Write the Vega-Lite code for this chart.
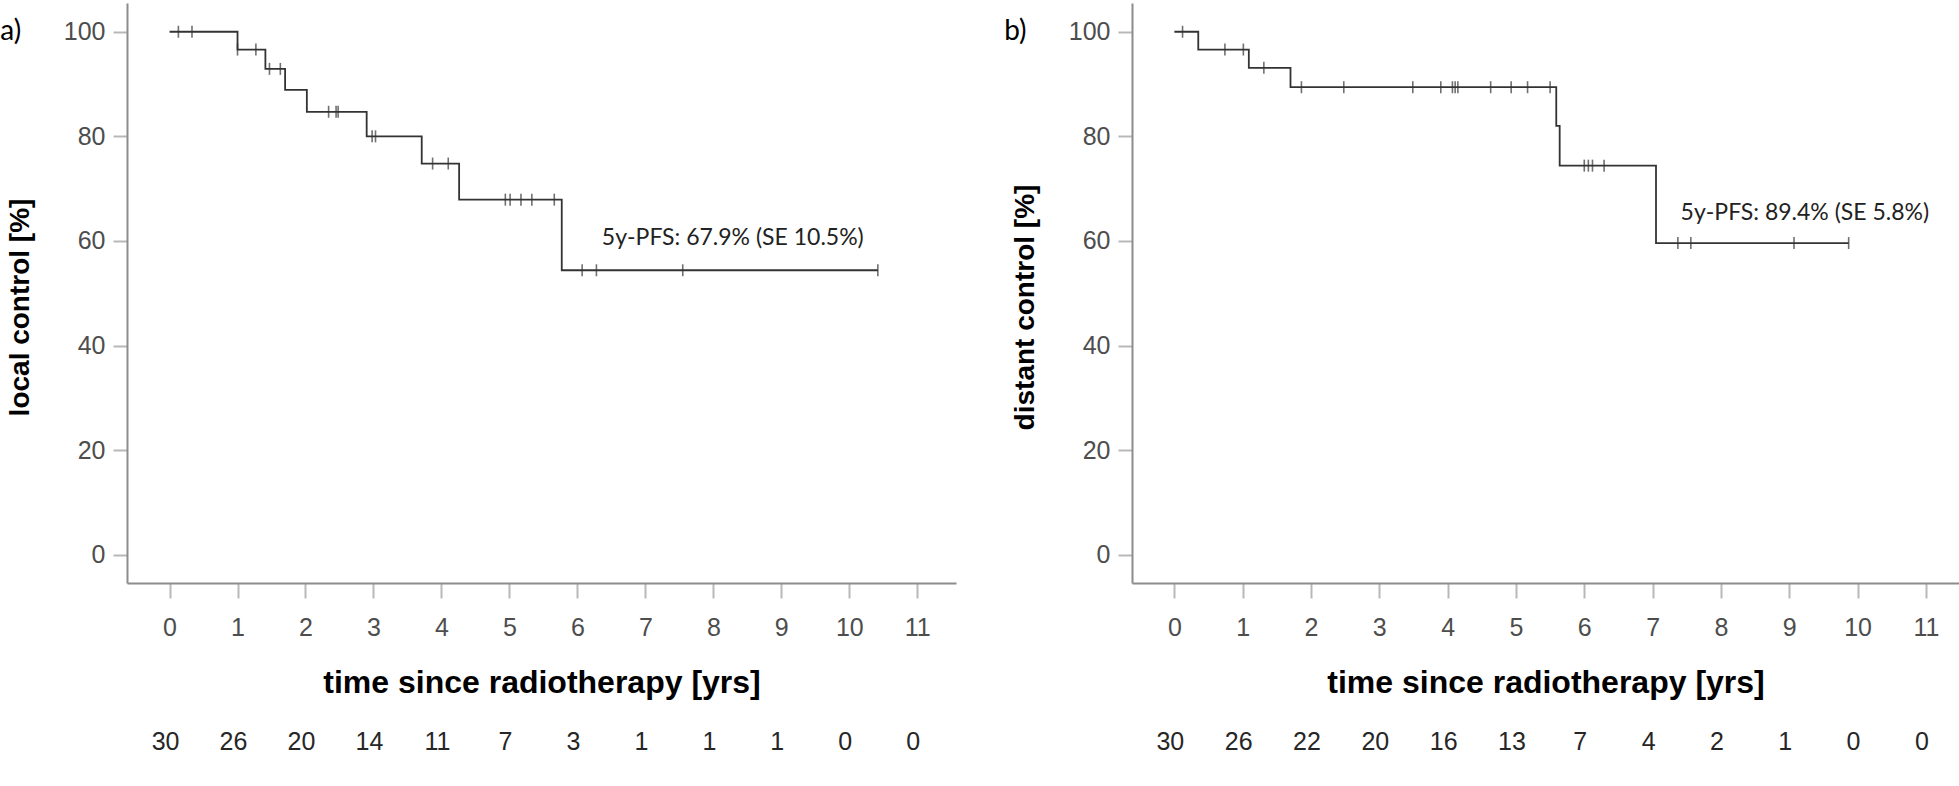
{
  "$schema": "https://vega.github.io/schema/vega-lite/v6.json",
  "background": "white",
  "padding": {"left": 0, "top": 3, "right": 0, "bottom": 0},
  "spacing": 48,
  "datasets": {
    "curveA": [
      {"t": 0, "s": 100}, {"t": 1.0, "s": 96.6}, {"t": 1.41, "s": 92.9}, {"t": 1.70, "s": 88.9},
      {"t": 2.02, "s": 84.7}, {"t": 2.90, "s": 80.0}, {"t": 3.71, "s": 74.8}, {"t": 4.26, "s": 67.9},
      {"t": 5.77, "s": 54.4}, {"t": 10.42, "s": 54.4}
    ],
    "censA": [
      {"t": 0.13, "s": 100}, {"t": 0.33, "s": 100}, {"t": 1.0, "s": 96.6}, {"t": 1.27, "s": 96.6},
      {"t": 1.47, "s": 92.9}, {"t": 1.63, "s": 92.9}, {"t": 2.34, "s": 84.7}, {"t": 2.45, "s": 84.7},
      {"t": 2.48, "s": 84.7}, {"t": 2.98, "s": 80.0}, {"t": 3.03, "s": 80.0}, {"t": 3.87, "s": 74.8},
      {"t": 4.10, "s": 74.8}, {"t": 4.94, "s": 67.9}, {"t": 5.01, "s": 67.9}, {"t": 5.17, "s": 67.9},
      {"t": 5.33, "s": 67.9}, {"t": 5.66, "s": 67.9}, {"t": 6.07, "s": 54.4}, {"t": 6.28, "s": 54.4},
      {"t": 7.55, "s": 54.4}, {"t": 10.42, "s": 54.4}
    ],
    "countsA": [
      {"t": 0, "n": 30}, {"t": 1, "n": 26}, {"t": 2, "n": 20}, {"t": 3, "n": 14}, {"t": 4, "n": 11},
      {"t": 5, "n": 7}, {"t": 6, "n": 3}, {"t": 7, "n": 1}, {"t": 8, "n": 1}, {"t": 9, "n": 1},
      {"t": 10, "n": 0}, {"t": 11, "n": 0}
    ],
    "curveB": [
      {"t": 0, "s": 100}, {"t": 0.35, "s": 96.6}, {"t": 1.09, "s": 93.1}, {"t": 1.70, "s": 89.4},
      {"t": 5.59, "s": 82.0}, {"t": 5.64, "s": 74.4}, {"t": 7.05, "s": 59.6}, {"t": 9.87, "s": 59.6}
    ],
    "censB": [
      {"t": 0.12, "s": 100}, {"t": 0.74, "s": 96.6}, {"t": 1.01, "s": 96.6}, {"t": 1.31, "s": 93.1},
      {"t": 1.86, "s": 89.4}, {"t": 2.48, "s": 89.4}, {"t": 3.49, "s": 89.4}, {"t": 3.90, "s": 89.4},
      {"t": 4.07, "s": 89.4}, {"t": 4.11, "s": 89.4}, {"t": 4.15, "s": 89.4}, {"t": 4.63, "s": 89.4},
      {"t": 4.93, "s": 89.4}, {"t": 5.17, "s": 89.4}, {"t": 5.50, "s": 89.4}, {"t": 6.00, "s": 74.4},
      {"t": 6.06, "s": 74.4}, {"t": 6.12, "s": 74.4}, {"t": 6.29, "s": 74.4}, {"t": 7.37, "s": 59.6},
      {"t": 7.56, "s": 59.6}, {"t": 9.07, "s": 59.6}, {"t": 9.87, "s": 59.6}
    ],
    "countsB": [
      {"t": 0, "n": 30}, {"t": 1, "n": 26}, {"t": 2, "n": 22}, {"t": 3, "n": 20}, {"t": 4, "n": 16},
      {"t": 5, "n": 13}, {"t": 6, "n": 7}, {"t": 7, "n": 4}, {"t": 8, "n": 2}, {"t": 9, "n": 1},
      {"t": 10, "n": 0}, {"t": 11, "n": 0}
    ]
  },
  "hconcat": [
    {
      "width": 829,
      "height": 580,
      "layer": [
        {
          "data": {"name": "curveA"},
          "mark": {"type": "line", "interpolate": "step-after", "color": "#333333", "strokeWidth": 1.8},
          "encoding": {
            "x": {"field": "t", "type": "quantitative", "title": "time since radiotherapy [yrs]",
                  "scale": {"domain": [-0.626, 11.57], "nice": false, "zero": false},
                  "axis": {"values": [0,1,2,3,4,5,6,7,8,9,10,11], "format": "d"}},
            "y": {"field": "s", "type": "quantitative", "title": "local control [%]",
                  "scale": {"domain": [-5.4, 105.5], "nice": false, "zero": false},
                  "axis": {"values": [0,20,40,60,80,100], "format": "d"}}
          }
        },
        {
          "data": {"name": "censA"},
          "mark": {"type": "tick", "orient": "vertical", "size": 12, "thickness": 1.6, "color": "#333333"},
          "encoding": {
            "x": {"field": "t", "type": "quantitative", "title": "time since radiotherapy [yrs]"},
            "y": {"field": "s", "type": "quantitative", "title": "local control [%]"}
          }
        },
        {
          "data": {"values": [{"label": "5y-PFS: 67.9% (SE 10.5%)"}]},
          "mark": {"type": "text", "align": "left", "baseline": "middle", "font": "Lato", "fontSize": 23, "color": "#222222"},
          "encoding": {"x": {"datum": 6.36}, "y": {"datum": 60.6}, "text": {"field": "label"}}
        },
        {
          "data": {"values": [{"label": "a)"}]},
          "mark": {"type": "text", "align": "left", "baseline": "middle", "font": "Lato", "fontSize": 28, "color": "#000000", "clip": false},
          "encoding": {"x": {"datum": -2.49}, "y": {"datum": 100}, "text": {"field": "label"}}
        },
        {
          "data": {"name": "countsA"},
          "mark": {"type": "text", "align": "center", "baseline": "middle", "font": "Liberation Sans", "fontSize": 25, "color": "#262626", "dx": -4},
          "encoding": {
            "x": {"field": "t", "type": "quantitative", "title": "time since radiotherapy [yrs]"},
            "y": {"datum": -35.8},
            "text": {"field": "n"}
          }
        }
      ]
    },
    {
      "width": 827,
      "height": 580,
      "layer": [
        {
          "data": {"name": "curveB"},
          "mark": {"type": "line", "interpolate": "step-after", "color": "#333333", "strokeWidth": 1.8},
          "encoding": {
            "x": {"field": "t", "type": "quantitative", "title": "time since radiotherapy [yrs]",
                  "scale": {"domain": [-0.62, 11.485], "nice": false, "zero": false},
                  "axis": {"values": [0,1,2,3,4,5,6,7,8,9,10,11], "format": "d"}},
            "y": {"field": "s", "type": "quantitative", "title": "distant control [%]",
                  "scale": {"domain": [-5.4, 105.5], "nice": false, "zero": false},
                  "axis": {"values": [0,20,40,60,80,100], "format": "d"}}
          }
        },
        {
          "data": {"name": "censB"},
          "mark": {"type": "tick", "orient": "vertical", "size": 12, "thickness": 1.6, "color": "#333333"},
          "encoding": {
            "x": {"field": "t", "type": "quantitative", "title": "time since radiotherapy [yrs]"},
            "y": {"field": "s", "type": "quantitative", "title": "distant control [%]"}
          }
        },
        {
          "data": {"values": [{"label": "5y-PFS: 89.4% (SE 5.8%)"}]},
          "mark": {"type": "text", "align": "left", "baseline": "middle", "font": "Lato", "fontSize": 23, "color": "#222222"},
          "encoding": {"x": {"datum": 7.41}, "y": {"datum": 65.4}, "text": {"field": "label"}}
        },
        {
          "data": {"values": [{"label": "b)"}]},
          "mark": {"type": "text", "align": "left", "baseline": "middle", "font": "Lato", "fontSize": 28, "color": "#000000", "clip": false},
          "encoding": {"x": {"datum": -2.49}, "y": {"datum": 100}, "text": {"field": "label"}}
        },
        {
          "data": {"name": "countsB"},
          "mark": {"type": "text", "align": "center", "baseline": "middle", "font": "Liberation Sans", "fontSize": 25, "color": "#262626", "dx": -4},
          "encoding": {
            "x": {"field": "t", "type": "quantitative", "title": "time since radiotherapy [yrs]"},
            "y": {"datum": -35.8},
            "text": {"field": "n"}
          }
        }
      ]
    }
  ],
  "config": {
    "view": {"stroke": null},
    "axis": {
      "grid": false,
      "domainColor": "#8c8c8c",
      "domainWidth": 2,
      "tickColor": "#b8b8b8",
      "tickWidth": 2,
      "labelFont": "Liberation Sans",
      "labelFontSize": 25,
      "labelColor": "#4d4d4d",
      "labelFlush": false,
      "labelOverlap": false,
      "titleFont": "Liberation Sans",
      "titleFontWeight": "bold",
      "titleColor": "#000000"
    },
    "axisX": {"tickSize": 15, "labelPadding": 17, "titlePadding": 27, "titleFontSize": 32},
    "axisY": {"tickSize": 14, "labelPadding": 8, "titlePadding": 29, "titleFontSize": 28, "titleY": 304}
  }
}
